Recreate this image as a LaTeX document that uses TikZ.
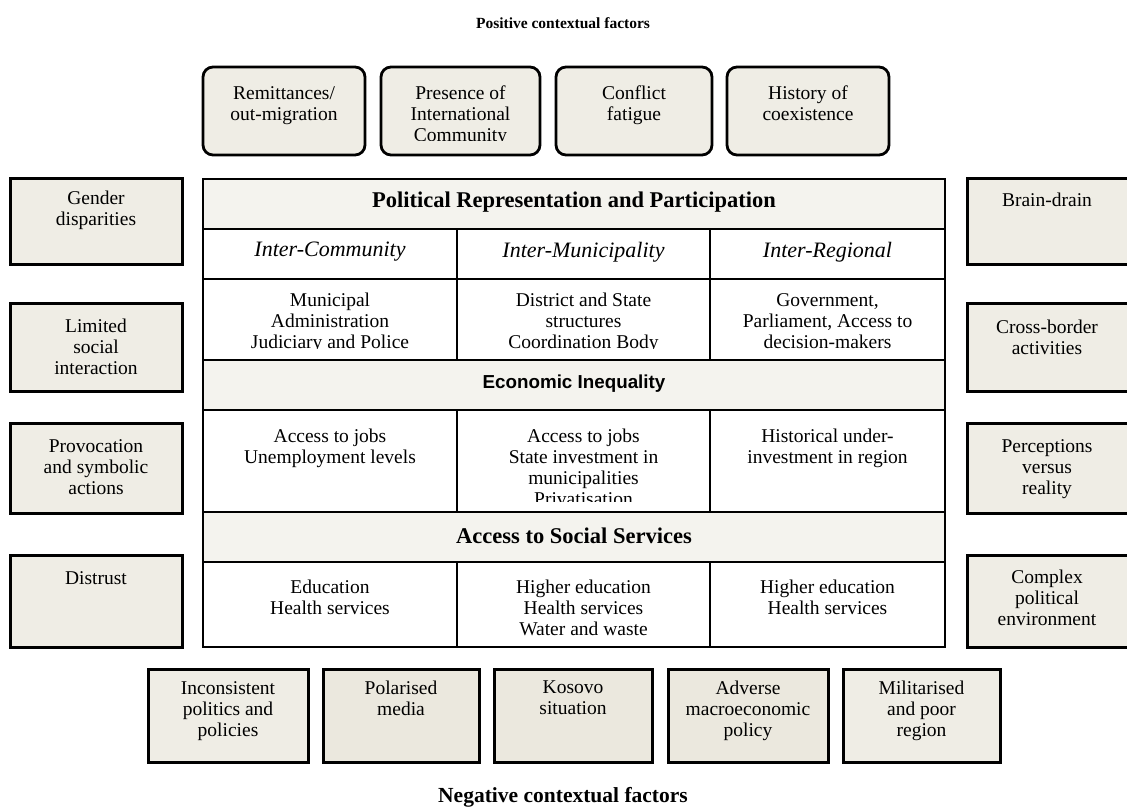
\documentclass[tikz,border=0pt]{standalone}
\usepackage{fontspec}
\setmainfont{Liberation Serif}
\newfontfamily\hdsans{Liberation Sans}
\definecolor{boxfill}{RGB}{239,237,229}
\definecolor{solidfill}{RGB}{235,232,222}
\definecolor{hdrfill}{RGB}{244,243,238}
\begin{document}
\begin{tikzpicture}[x=1pt,y=-1pt,
  fbox/.style={draw=black, line width=3pt, fill=boxfill, rectangle, inner sep=0pt},
  sbox/.style={fbox, fill=solidfill},
  rbox/.style={fbox, rounded corners=10pt, line width=2.8pt},
  cell/.style={draw=black, line width=2.6pt, fill=white, rectangle, inner sep=0pt},
  hcell/.style={cell, fill=hdrfill},
  txt/.style={font=\fontsize{19.5}{21}\selectfont, align=center, inner sep=0pt, anchor=north, execute at begin node=\strut},
  itx/.style={txt, font=\fontsize{22}{21}\selectfont\itshape},
  hdr/.style={font=\fontsize{22.5}{24}\selectfont\bfseries, inner sep=0pt, anchor=base},
  ttl/.style={font=\fontsize{15.5}{18}\selectfont\bfseries, inner sep=0pt, anchor=base}
]
\useasboundingbox (0,0) rectangle (1127,810);
\clip (0,0) rectangle (1127,810);

% titles
\node[ttl] (ptitle) at (563,29) {Positive contextual factors};
\node[ttl, font=\fontsize{21.5}{24}\selectfont\bfseries] (ntitle) at (563,802) {Negative contextual factors};

% top positive boxes
\node[rbox, minimum width=162, minimum height=88] (t1) at (284,111) {};
\node[rbox, minimum width=159, minimum height=88] (t2) at (460.5,111) {};
\node[rbox, minimum width=156, minimum height=88] (t3) at (634,111) {};
\node[rbox, minimum width=162, minimum height=88] (t4) at (808,111) {};
\node[txt] (t1t) at (284,86) {Remittances/\\out-migration};
\begin{scope}
\clip (381,67) rectangle (540,141);
\node[txt] (t2t) at (460.5,86) {Presence of\\International\\Community};
\end{scope}
\node[txt] (t3t) at (634,86) {Conflict\\fatigue};
\node[txt] (t4t) at (808,86) {History of\\coexistence};

% left boxes
\node[fbox, minimum width=172, minimum height=86] (l1) at (96,222) {};
\node[fbox, minimum width=172, minimum height=87] (l2) at (96,347.5) {};
\node[fbox, minimum width=172, minimum height=90] (l3) at (96,468) {};
\node[fbox, minimum width=172, minimum height=92] (l4) at (96,601) {};
\node[txt] (l1t) at (96,191) {Gender\\disparities};
\node[txt] (l2t) at (96,319) {Limited\\social\\interaction};
\node[txt] (l3t) at (96,439) {Provocation\\and symbolic\\actions};
\node[txt] (l4t) at (96,570) {Distrust};

% right boxes
\node[fbox, minimum width=166, minimum height=86] (r1) at (1050,222) {};
\node[fbox, minimum width=166, minimum height=87] (r2) at (1050,347.5) {};
\node[fbox, minimum width=166, minimum height=90] (r3) at (1050,468) {};
\node[fbox, minimum width=166, minimum height=92] (r4) at (1050,601) {};
\node[txt] (r1t) at (1047,192) {Brain-drain};
\node[txt] (r2t) at (1047,320) {Cross-border\\activities};
\node[txt] (r3t) at (1047,439) {Perceptions\\versus\\reality};
\node[txt] (r4t) at (1047,570) {Complex\\political\\environment};

% bottom boxes
\node[fbox, minimum width=160, minimum height=93] (b1) at (228,715.5) {};
\node[sbox, minimum width=156, minimum height=93] (b2) at (401,715.5) {};
\node[sbox, minimum width=158, minimum height=93] (b3) at (573,715.5) {};
\node[sbox, minimum width=160, minimum height=93] (b4) at (748,715.5) {};
\node[fbox, minimum width=157, minimum height=93] (b5) at (921.5,715.5) {};
\node[txt] (b1t) at (228,681) {Inconsistent\\politics and\\policies};
\node[txt] (b2t) at (401,681) {Polarised\\media};
\node[txt] (b3t) at (573,681) {Kosovo\\situation};
\node[txt] (b4t) at (748,681) {Adverse\\macroeconomic\\policy};
\node[txt] (b5t) at (921.5,681) {Militarised\\and poor\\region};

% central table
\node[hcell, minimum width=742, minimum height=50] (h1) at (574,204) {};
\node[cell, minimum width=254, minimum height=50] (c21) at (330,254) {};
\node[cell, minimum width=253, minimum height=50] (c22) at (583.5,254) {};
\node[cell, minimum width=235, minimum height=50] (c23) at (827.5,254) {};
\node[cell, minimum width=254, minimum height=81] (c31) at (330,319.5) {};
\node[cell, minimum width=253, minimum height=81] (c32) at (583.5,319.5) {};
\node[cell, minimum width=235, minimum height=81] (c33) at (827.5,319.5) {};
\node[hcell, minimum width=742, minimum height=50] (h2) at (574,385) {};
\node[cell, minimum width=254, minimum height=102] (c51) at (330,461) {};
\node[cell, minimum width=253, minimum height=102] (c52) at (583.5,461) {};
\node[cell, minimum width=235, minimum height=102] (c53) at (827.5,461) {};
\node[hcell, minimum width=742, minimum height=50] (h3) at (574,537) {};
\node[cell, minimum width=254, minimum height=85] (c71) at (330,604.5) {};
\node[cell, minimum width=253, minimum height=85] (c72) at (583.5,604.5) {};
\node[cell, minimum width=235, minimum height=85] (c73) at (827.5,604.5) {};

\node[hdr] (h1t) at (574,207.5) {Political Representation and Participation};
\node[hdr, font=\fontsize{18.8}{21}\selectfont\hdsans\bfseries] (h2t) at (574,388) {Economic Inequality};
\node[hdr] (h3t) at (574,543) {Access to Social Services};

\node[itx] (c21t) at (330,242) {Inter-Community};
\node[itx] (c22t) at (583.5,242) {Inter-Municipality};
\node[itx] (c23t) at (827.5,242) {Inter-Regional};

\begin{scope}
\clip (203,279) rectangle (945,348);
\node[txt] (c31t) at (330,293) {Municipal\\Administration\\Judiciary and Police};
\node[txt] (c32t) at (583.5,293) {District and State\\structures\\Coordination Body};
\node[txt] (c33t) at (827.5,293) {Government,\\Parliament, Access to\\decision-makers};
\end{scope}

\begin{scope}
\clip (203,410) rectangle (945,501);
\node[txt] (c51t) at (330,429) {Access to jobs\\Unemployment levels};
\node[txt] (c52t) at (583.5,429) {Access to jobs\\State investment in\\municipalities\\Privatisation};
\node[txt] (c53t) at (827.5,429) {Historical under-\\investment in region};
\end{scope}

\node[txt] (c71t) at (330,580) {Education\\Health services};
\node[txt] (c72t) at (583.5,580) {Higher education\\Health services\\Water and waste};
\node[txt] (c73t) at (827.5,580) {Higher education\\Health services};
\end{tikzpicture}
\end{document}
